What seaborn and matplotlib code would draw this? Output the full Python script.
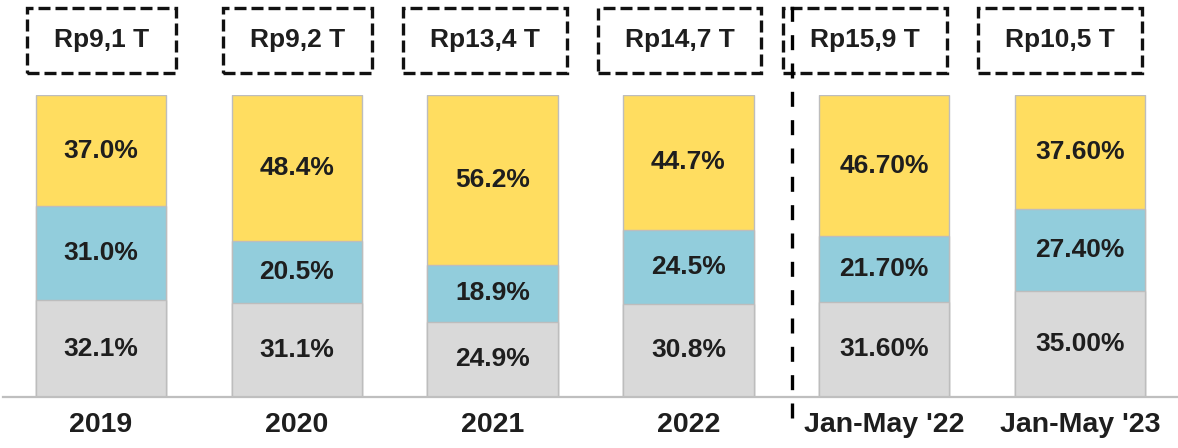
import numpy as np
import pandas as pd
import seaborn as sns
import matplotlib
matplotlib.use("Agg")
import matplotlib.pyplot as plt
from matplotlib.patches import Rectangle
from matplotlib.lines import Line2D
from matplotlib.transforms import blended_transform_factory, IdentityTransform, offset_copy

# ---- data ----
categories = ["2019", "2020", "2021", "2022", "Jan-May '22", "Jan-May '23"]
gray_share = [32.1, 31.1, 24.9, 30.8, 31.60, 35.00]
blue_share = [31.0, 20.5, 18.9, 24.5, 21.70, 27.40]
yellow_share = [37.0, 48.4, 56.2, 44.7, 46.70, 37.60]
label_decimals = [1, 1, 1, 1, 2, 2]
totals_trillion = [9.1, 9.2, 13.4, 14.7, 15.9, 10.5]

# ---- style ----
YELLOW = "#FFDD60"
BLUE = "#92CDDC"
GRAY = "#D9D9D9"
EDGE = "#BDBDBD"
TEXT = "#1E1E1E"
FS = 19
TICK_FS = 20.5

sns.set_theme(style="white")
plt.rcParams['font.family'] = ['Liberation Sans', 'DejaVu Sans']
plt.rcParams['font.weight'] = 'bold'

W, H = 1178, 448
fig = plt.figure(figsize=(W / 100, H / 100), dpi=100)
ax = fig.add_axes([3 / W, 51 / H, 1175 / W, 302 / H])

df = pd.DataFrame({
    "category": categories,
    "gray": gray_share,
    "blue": blue_share,
    "yellow": yellow_share,
})
df["blue_top"] = df["gray"] + df["blue"]
df["yellow_top"] = df["blue_top"] + df["yellow"]

for col, color in [("yellow_top", YELLOW), ("blue_top", BLUE), ("gray", GRAY)]:
    sns.barplot(data=df, x="category", y=col, order=categories, color=color,
                saturation=1, width=0.665, edgecolor=EDGE, linewidth=1.0,
                errorbar=None, ax=ax)

ax.set_xlim(-0.5, len(categories) - 0.5)
ax.set_ylim(0, 100)
ax.set_xlabel("")
ax.set_ylabel("")
ax.set_yticks([])
for s in ["left", "top", "right"]:
    ax.spines[s].set_visible(False)
ax.spines["bottom"].set_color("#BFBFBF")
ax.spines["bottom"].set_linewidth(1.6)
ax.tick_params(axis="x", length=0, pad=11, labelsize=TICK_FS, labelcolor=TEXT)
for lab in ax.get_xticklabels():
    lab.set_fontweight("bold")

# segment labels
for i in range(len(categories)):
    bottoms = [0, gray_share[i], gray_share[i] + blue_share[i]]
    heights = [gray_share[i], blue_share[i], yellow_share[i]]
    for b, h in zip(bottoms, heights):
        ax.text(i, b + h / 2, f"{h:.{label_decimals[i]}f}%", ha="center",
                va="center", fontsize=FS, fontweight="bold", color=TEXT)

# totals in dashed boxes
box_shift_px = [1, 1, -8, -9, -19, -20]
box_center_y = H - 40
base = blended_transform_factory(ax.transData, fig.transFigure)
texts = []
for i, t in enumerate(totals_trillion):
    tr = offset_copy(base, fig=fig, x=box_shift_px[i], y=0, units="dots")
    label = "Rp" + f"{t:.1f}".replace(".", ",") + " T"
    texts.append(fig.text(i, box_center_y / H, label, transform=tr, ha="center",
                          va="center", fontsize=FS, fontweight="bold", color=TEXT))

fig.canvas.draw()
renderer = fig.canvas.get_renderer()
for t in texts:
    bb = t.get_window_extent(renderer)
    rect = Rectangle((bb.x0 - 27, box_center_y - 32.5), bb.width + 54, 65,
                     transform=IdentityTransform(), fill=False,
                     edgecolor="#111111", linewidth=2.4,
                     linestyle=(0, (3.6, 1.5)))
    fig.add_artist(rect)

# divider between full years and Jan-May periods
divider_x = 3.53
vtr = blended_transform_factory(ax.transData, fig.transFigure)
fig.add_artist(Line2D([divider_x, divider_x], [30 / H, 1.0], transform=vtr,
                      color="black", linewidth=2.4, linestyle=(0, (4.5, 4))))

fig.savefig("out.png", dpi=100)
